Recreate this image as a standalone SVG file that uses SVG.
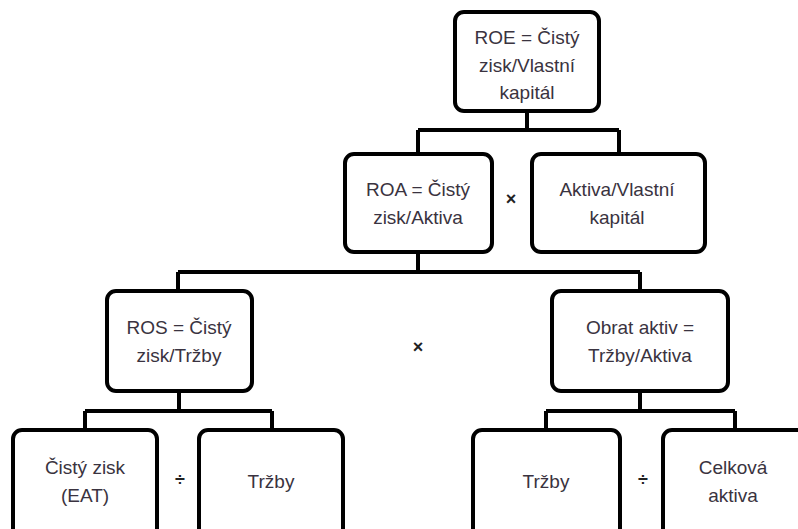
<svg xmlns="http://www.w3.org/2000/svg" width="798" height="529" viewBox="0 0 798 529">
<style>
.box{fill:#fff;stroke:#000;stroke-width:4}
.con{fill:none;stroke:#000;stroke-width:4}
.t{font-family:"Liberation Sans",Arial,sans-serif;font-size:19px;fill:#3a3340;text-anchor:middle}
.op{font-family:"Liberation Sans",Arial,sans-serif;font-size:18px;fill:#222;text-anchor:middle;font-weight:bold}
</style>
<rect width="798" height="529" fill="#fff"/>
<g id="connectors">
<path class="con" d="M527 111V130M418 130H619M418 130V154M619 130V154"/>
<path class="con" d="M418 252V272M178 272H640M178 272V291M640 272V291"/>
<path class="con" d="M179 391V411M85 411H272M85 411V430M272 411V430"/>
<path class="con" d="M640 391V411M546 411H735M546 411V430M735 411V430"/>
</g>
<g id="roe">
<rect class="box" x="455" y="12" width="144" height="99" rx="9"/>
<text class="t" x="527" y="44">ROE = Čistý</text>
<text class="t" x="527" y="72">zisk/Vlastní</text>
<text class="t" x="527" y="99">kapitál</text>
</g>
<g id="roa">
<rect class="box" x="345" y="154" width="147" height="98" rx="9"/>
<text class="t" x="418" y="196">ROA = Čistý</text>
<text class="t" x="418" y="224">zisk/Aktiva</text>
</g>
<g id="aktiva-vk">
<rect class="box" x="532" y="154" width="173" height="98" rx="9"/>
<text class="t" x="617" y="196">Aktiva/Vlastní</text>
<text class="t" x="617" y="224">kapitál</text>
</g>
<g id="ros">
<rect class="box" x="107" y="291" width="145" height="100" rx="9"/>
<text class="t" x="179" y="334">ROS = Čistý</text>
<text class="t" x="179" y="362">zisk/Tržby</text>
</g>
<g id="obrat">
<rect class="box" x="552" y="291" width="176" height="100" rx="9"/>
<text class="t" x="640" y="334">Obrat aktiv =</text>
<text class="t" x="640" y="362">Tržby/Aktiva</text>
</g>
<g id="cisty-zisk">
<rect class="box" x="13" y="430" width="144" height="110" rx="9"/>
<text class="t" x="85" y="474">Čistý zisk</text>
<text class="t" x="85" y="502">(EAT)</text>
</g>
<g id="trzby1">
<rect class="box" x="199" y="430" width="144" height="110" rx="9"/>
<text class="t" x="271" y="488">Tržby</text>
</g>
<g id="trzby2">
<rect class="box" x="473" y="430" width="147" height="110" rx="9"/>
<text class="t" x="546" y="488">Tržby</text>
</g>
<g id="celkova-aktiva">
<rect class="box" x="663" y="430" width="144" height="110" rx="9"/>
<text class="t" x="733" y="474">Celková</text>
<text class="t" x="733" y="502">aktiva</text>
</g>
<g id="operators">
<text class="op" x="511" y="205">×</text>
<text class="op" x="418" y="353">×</text>
<text class="op" x="180" y="486">÷</text>
<text class="op" x="643" y="486">÷</text>
</g>
</svg>
